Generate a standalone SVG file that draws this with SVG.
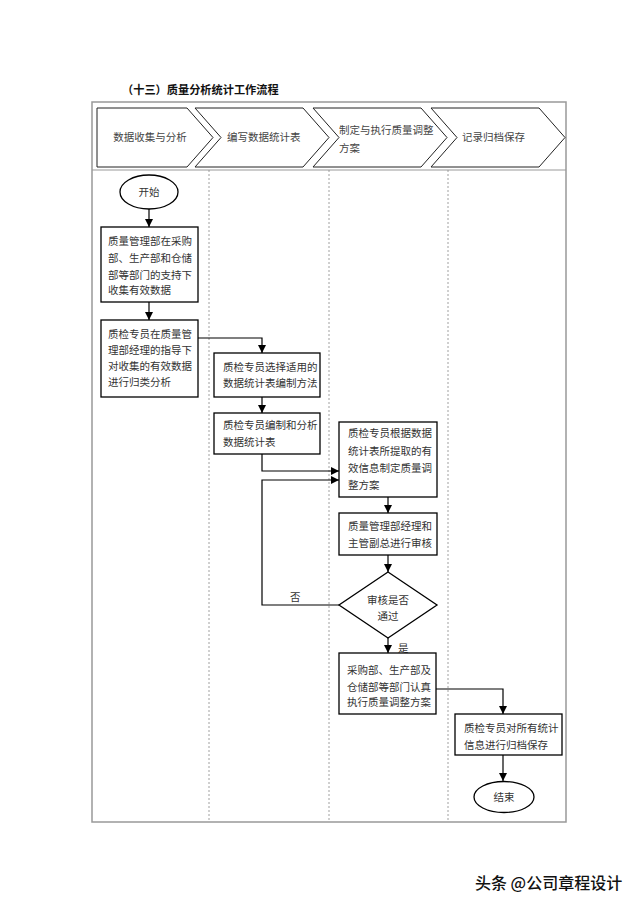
<svg xmlns="http://www.w3.org/2000/svg" width="640" height="905" viewBox="0 0 640 905">
<defs>
<marker id="ah" viewBox="0 0 10 10" refX="10" refY="5" markerWidth="8" markerHeight="8" markerUnits="userSpaceOnUse" orient="auto">
<path d="M0,0 L10,5 L0,10 z" fill="#000"/>
</marker>
<style>
text{font-family:"Noto Sans CJK SC","Noto Sans",sans-serif;fill:#333;}
.t{font-size:10.5px;}
.h{font-size:10.5px;fill:#444;}
.box{fill:#fff;stroke:#000;stroke-width:1.3;}
.chev{fill:#fff;stroke:#222;stroke-width:1;}
.lane{stroke:#888;stroke-width:0.8;stroke-dasharray:2,2;fill:none;}
.conn{fill:none;stroke:#000;stroke-width:1.2;}
</style>
</defs>
<rect width="640" height="905" fill="#fff"/>
<text x="122" y="94" style="font-size:11.2px;font-weight:bold;fill:#111;">（十三）质量分析统计工作流程</text>
<g id="frame">
<rect x="92" y="102" width="474" height="720" fill="none" stroke="#999" stroke-width="1.5"/>
<line x1="92" y1="170" x2="566" y2="170" stroke="#999" stroke-width="1"/>
<line class="lane" x1="209" y1="170" x2="209" y2="822"/>
<line class="lane" x1="329" y1="170" x2="329" y2="822"/>
<line class="lane" x1="448" y1="170" x2="448" y2="822"/>
</g>
<g id="header">
<g id="h1"><polygon class="chev" points="97,108 187,108 213,137.5 187,167 97,167"/><text class="h" x="150" y="141" text-anchor="middle">数据收集与分析</text></g>
<g id="h2"><polygon class="chev" points="195,108 303,108 329,137.5 303,167 195,167 221,137.5"/><text class="h" x="227" y="141">编写数据统计表</text></g>
<g id="h3"><polygon class="chev" points="313,108 421,108 447,137.5 421,167 313,167 339,137.5"/><text class="h" x="339" y="134">制定与执行质量调整</text><text class="h" x="339" y="152">方案</text></g>
<g id="h4"><polygon class="chev" points="431,108 539,108 565,137.5 539,167 431,167 457,137.5"/><text class="h" x="462" y="141">记录归档保存</text></g>
</g>
<g id="connectors">
<line class="conn" x1="149" y1="209" x2="149" y2="227" marker-end="url(#ah)"/>
<line class="conn" x1="149" y1="302" x2="149" y2="320" marker-end="url(#ah)"/>
<polyline class="conn" points="198,338 262,338 262,353" marker-end="url(#ah)"/>
<line class="conn" x1="262" y1="397" x2="262" y2="413" marker-end="url(#ah)"/>
<polyline class="conn" points="262,454 262,471 339,471" marker-end="url(#ah)"/>
<polyline class="conn" points="339,605 262,605 262,480 339,480" marker-end="url(#ah)"/>
<line class="conn" x1="388" y1="497" x2="388" y2="513" marker-end="url(#ah)"/>
<line class="conn" x1="388" y1="555" x2="388" y2="572" marker-end="url(#ah)"/>
<line class="conn" x1="388" y1="638" x2="388" y2="653" marker-end="url(#ah)"/>
<polyline class="conn" points="436,689 503,689 503,714" marker-end="url(#ah)"/>
<line class="conn" x1="503" y1="755" x2="503" y2="781" marker-end="url(#ah)"/>
<text class="t" x="290" y="601">否</text>
<text class="t" x="398" y="652">是</text>
</g>
<g id="start"><ellipse cx="149" cy="192" rx="29" ry="17" class="box"/><text class="t" x="149" y="196" text-anchor="middle">开始</text></g>
<g id="n1"><rect class="box" x="101" y="227" width="97" height="75"/>
<text class="t" x="108" y="245">质量管理部在采购</text><text class="t" x="108" y="262">部、生产部和仓储</text><text class="t" x="108" y="279">部等部门的支持下</text><text class="t" x="108" y="294">收集有效数据</text></g>
<g id="n2"><rect class="box" x="101" y="320" width="97" height="77"/>
<text class="t" x="108" y="338">质检专员在质量管</text><text class="t" x="108" y="354">理部经理的指导下</text><text class="t" x="108" y="370">对收集的有效数据</text><text class="t" x="108" y="386">进行归类分析</text></g>
<g id="n3"><rect class="box" x="214" y="353" width="106" height="44"/>
<text class="t" x="223" y="371">质检专员选择适用的</text><text class="t" x="223" y="387">数据统计表编制方法</text></g>
<g id="n4"><rect class="box" x="214" y="413" width="106" height="41"/>
<text class="t" x="223" y="429">质检专员编制和分析</text><text class="t" x="223" y="446">数据统计表</text></g>
<g id="n5"><rect class="box" x="339" y="422" width="98" height="75"/>
<text class="t" x="348" y="437">质检专员根据数据</text><text class="t" x="348" y="455">统计表所提取的有</text><text class="t" x="348" y="472">效信息制定质量调</text><text class="t" x="348" y="489">整方案</text></g>
<g id="n6"><rect class="box" x="339" y="513" width="98" height="42"/>
<text class="t" x="348" y="530">质量管理部经理和</text><text class="t" x="348" y="547">主管副总进行审核</text></g>
<g id="d1"><polygon class="box" points="388,572 437,605 388,638 339,605"/>
<text class="t" x="388" y="604" text-anchor="middle">审核是否</text><text class="t" x="388" y="620" text-anchor="middle">通过</text></g>
<g id="n7"><rect class="box" x="339" y="653" width="97" height="61"/>
<text class="t" x="347" y="674">采购部、生产部及</text><text class="t" x="347" y="691">仓储部等部门认真</text><text class="t" x="347" y="706">执行质量调整方案</text></g>
<g id="n8"><rect class="box" x="455" y="714" width="107" height="41"/>
<text class="t" x="464" y="732">质检专员对所有统计</text><text class="t" x="464" y="749">信息进行归档保存</text></g>
<g id="end"><ellipse cx="504" cy="797" rx="30" ry="15.5" class="box"/><text class="t" x="504" y="801" text-anchor="middle">结束</text></g>
<text x="475" y="889" style="font-size:16px;font-weight:500;fill:#111;stroke:#fff;stroke-width:2;paint-order:stroke;">头条 @公司章程设计</text>
</svg>
